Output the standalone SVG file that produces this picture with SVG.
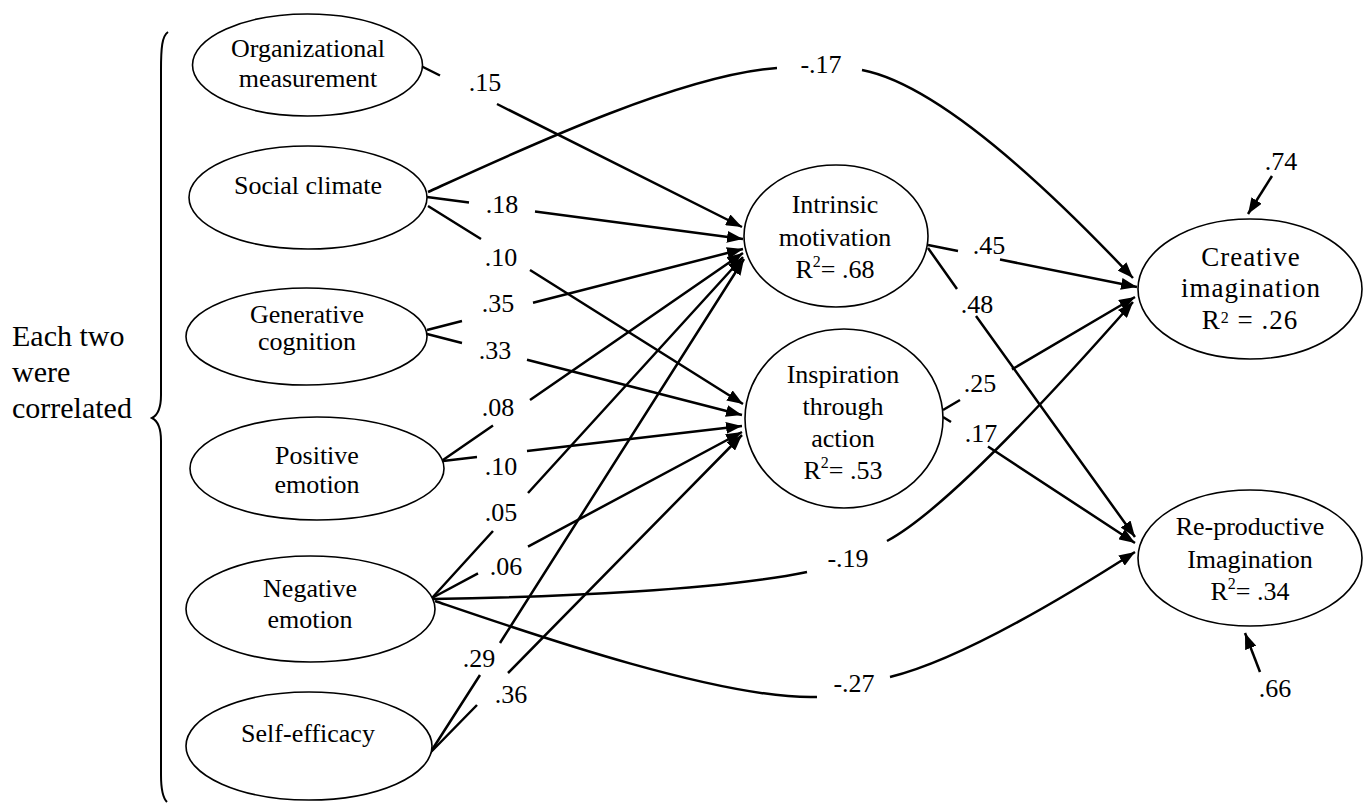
<svg xmlns="http://www.w3.org/2000/svg" width="1371" height="803" viewBox="0 0 1371 803">
<defs>
<marker id="ah" viewBox="0 0 16 12" refX="16" refY="6" markerWidth="16" markerHeight="12" markerUnits="userSpaceOnUse" orient="auto">
<path d="M0,0 L16,6 L0,12 Z" fill="#000"/>
</marker>
<style>
.node ellipse{fill:#fff;stroke:#000;stroke-width:1.6}
text{font-family:'Liberation Serif','Tinos','Times New Roman','DejaVu Serif',serif;fill:#000}
.t{font-size:26px;text-anchor:middle}
.lbl{font-size:26px;text-anchor:middle}
.cr{font-size:27px;letter-spacing:1px;text-anchor:middle}
.side{font-size:30px}
#connectors path{fill:none;stroke:#000;stroke-width:2.5}
</style>
</defs>
<rect width="1371" height="803" fill="#fff"/>

<g id="brace">
<path d="M168 32 C162 36 161 48 161 70 L161 395 C161 408 158 415 152 418 C158 421 161 428 161 441 L161 775 C161 790 163 798 167 802" fill="none" stroke="#000" stroke-width="2"/>
<text class="side" x="12" y="346" font-family="Liberation Serif, serif">Each two</text>
<text class="side" x="12" y="382" font-family="Liberation Serif, serif">were</text>
<text class="side" x="12" y="418" font-family="Liberation Serif, serif">correlated</text>
</g>

<g id="connectors">
<path d="M421 66 L440 75.5 M497 104 L742 227" marker-end="url(#ah)"/>
<path d="M427 197 L469 202.6 M535 211.4 L743 239" marker-end="url(#ah)"/>
<path d="M428 206 L481 239 M530 270 L743 404" marker-end="url(#ah)"/>
<path d="M428 192 C520 150 680 75 777 68 M862 70 C940 85 1050 190 1133 278" marker-end="url(#ah)"/>
<path d="M427 330 L462 321 M533 302.8 L743 249" marker-end="url(#ah)"/>
<path d="M427 334 L462 343 M527 359.7 L742 415" marker-end="url(#ah)"/>
<path d="M443 460 L493 425.5 M530 400 L743 253" marker-end="url(#ah)"/>
<path d="M443 461 L477 457 M527 451 L742 426" marker-end="url(#ah)"/>
<path d="M432 598 L493 531 M528 493 L743 257" marker-end="url(#ah)"/>
<path d="M432 598 L478 573.4 M528 546.6 L742 432" marker-end="url(#ah)"/>
<path d="M432 599 C560 597 720 590 807 572 M887 541 C945 510 1060 385 1133 302" marker-end="url(#ah)"/>
<path d="M435 601 C520 630 720 700 817 697 M890 677 C960 660 1060 600 1135 552" marker-end="url(#ah)"/>
<path d="M430 753 L480 675 M500 643 L744 259" marker-end="url(#ah)"/>
<path d="M430 753 L477 705 M508 673 L742 435" marker-end="url(#ah)"/>
<path d="M928 245 L958 251 M1000 259.5 L1137 287" marker-end="url(#ah)"/>
<path d="M928 248 L957 289 M976 316 L1135 537" marker-end="url(#ah)"/>
<path d="M943 410 L960 400 M1012 369.4 L1135 297" marker-end="url(#ah)"/>
<path d="M943 417 L951 422 M988 446.5 L1135 543" marker-end="url(#ah)"/>
<path d="M1272 176 L1248 214" marker-end="url(#ah)"/>
<path d="M1260 672 L1245 633" marker-end="url(#ah)"/>
</g>

<g id="labels">
<text class="lbl" x="485" y="91">.15</text>
<text class="lbl" x="502" y="213">.18</text>
<text class="lbl" x="501" y="266">.10</text>
<text class="lbl" x="821" y="73">-.17</text>
<text class="lbl" x="498" y="312">.35</text>
<text class="lbl" x="495" y="359">.33</text>
<text class="lbl" x="498" y="416">.08</text>
<text class="lbl" x="501" y="475">.10</text>
<text class="lbl" x="501" y="521">.05</text>
<text class="lbl" x="506" y="575">.06</text>
<text class="lbl" x="848" y="567">-.19</text>
<text class="lbl" x="854" y="692">-.27</text>
<text class="lbl" x="479" y="667">.29</text>
<text class="lbl" x="511" y="703">.36</text>
<text class="lbl" x="989" y="254">.45</text>
<text class="lbl" x="977" y="313">.48</text>
<text class="lbl" x="980" y="392">.25</text>
<text class="lbl" x="981" y="442">.17</text>
<text class="lbl" x="1281" y="170">.74</text>
<text class="lbl" x="1275" y="697">.66</text>
</g>

<g id="org" class="node">
<ellipse cx="307.5" cy="65" rx="115" ry="51"/>
<text class="t" x="308" y="57">Organizational</text>
<text class="t" x="308" y="87">measurement</text>
</g>
<g id="social" class="node">
<ellipse cx="308" cy="197.5" rx="119" ry="51.5"/>
<text class="t" x="308" y="194">Social climate</text>
</g>
<g id="generative" class="node">
<ellipse cx="306.5" cy="336.5" rx="120.5" ry="48.5"/>
<text class="t" x="307" y="323">Generative</text>
<text class="t" x="307" y="350">cognition</text>
</g>
<g id="positive" class="node">
<ellipse cx="317" cy="468.5" rx="127" ry="51.5"/>
<text class="t" x="317" y="464">Positive</text>
<text class="t" x="317" y="493">emotion</text>
</g>
<g id="negative" class="node">
<ellipse cx="310.5" cy="609" rx="124.5" ry="53"/>
<text class="t" x="310" y="597">Negative</text>
<text class="t" x="310" y="628">emotion</text>
</g>
<g id="selfefficacy" class="node">
<ellipse cx="309" cy="746" rx="123" ry="54"/>
<text class="t" x="308" y="742">Self-efficacy</text>
</g>
<g id="intrinsic" class="node">
<ellipse cx="836" cy="236" rx="92" ry="71"/>
<text class="t" x="835" y="213">Intrinsic</text>
<text class="t" x="835" y="246">motivation</text>
<text class="t" x="835" y="278">R<tspan font-size="16" dy="-11">2</tspan><tspan dy="11">= .68</tspan></text>
</g>
<g id="inspiration" class="node">
<ellipse cx="844" cy="418.5" rx="99" ry="89.5"/>
<text class="t" x="843" y="383">Inspiration</text>
<text class="t" x="843" y="415">through</text>
<text class="t" x="843" y="447">action</text>
<text class="t" x="843" y="479">R<tspan font-size="16" dy="-11">2</tspan><tspan dy="11">= .53</tspan></text>
</g>
<g id="creative" class="node">
<ellipse cx="1250" cy="289" rx="112" ry="70"/>
<text class="cr" x="1251" y="266">Creative</text>
<text class="cr" x="1251" y="297">imagination</text>
<text class="cr" x="1250" y="329">R<tspan font-size="16" dy="-6">2</tspan><tspan dy="6"> = .26</tspan></text>
</g>
<g id="reproductive" class="node">
<ellipse cx="1250" cy="558" rx="112" ry="68"/>
<text class="t" x="1250" y="535">Re-productive</text>
<text class="t" x="1250" y="568">Imagination</text>
<text class="t" x="1250" y="600">R<tspan font-size="16" dy="-11">2</tspan><tspan dy="11">= .34</tspan></text>
</g>
</svg>
